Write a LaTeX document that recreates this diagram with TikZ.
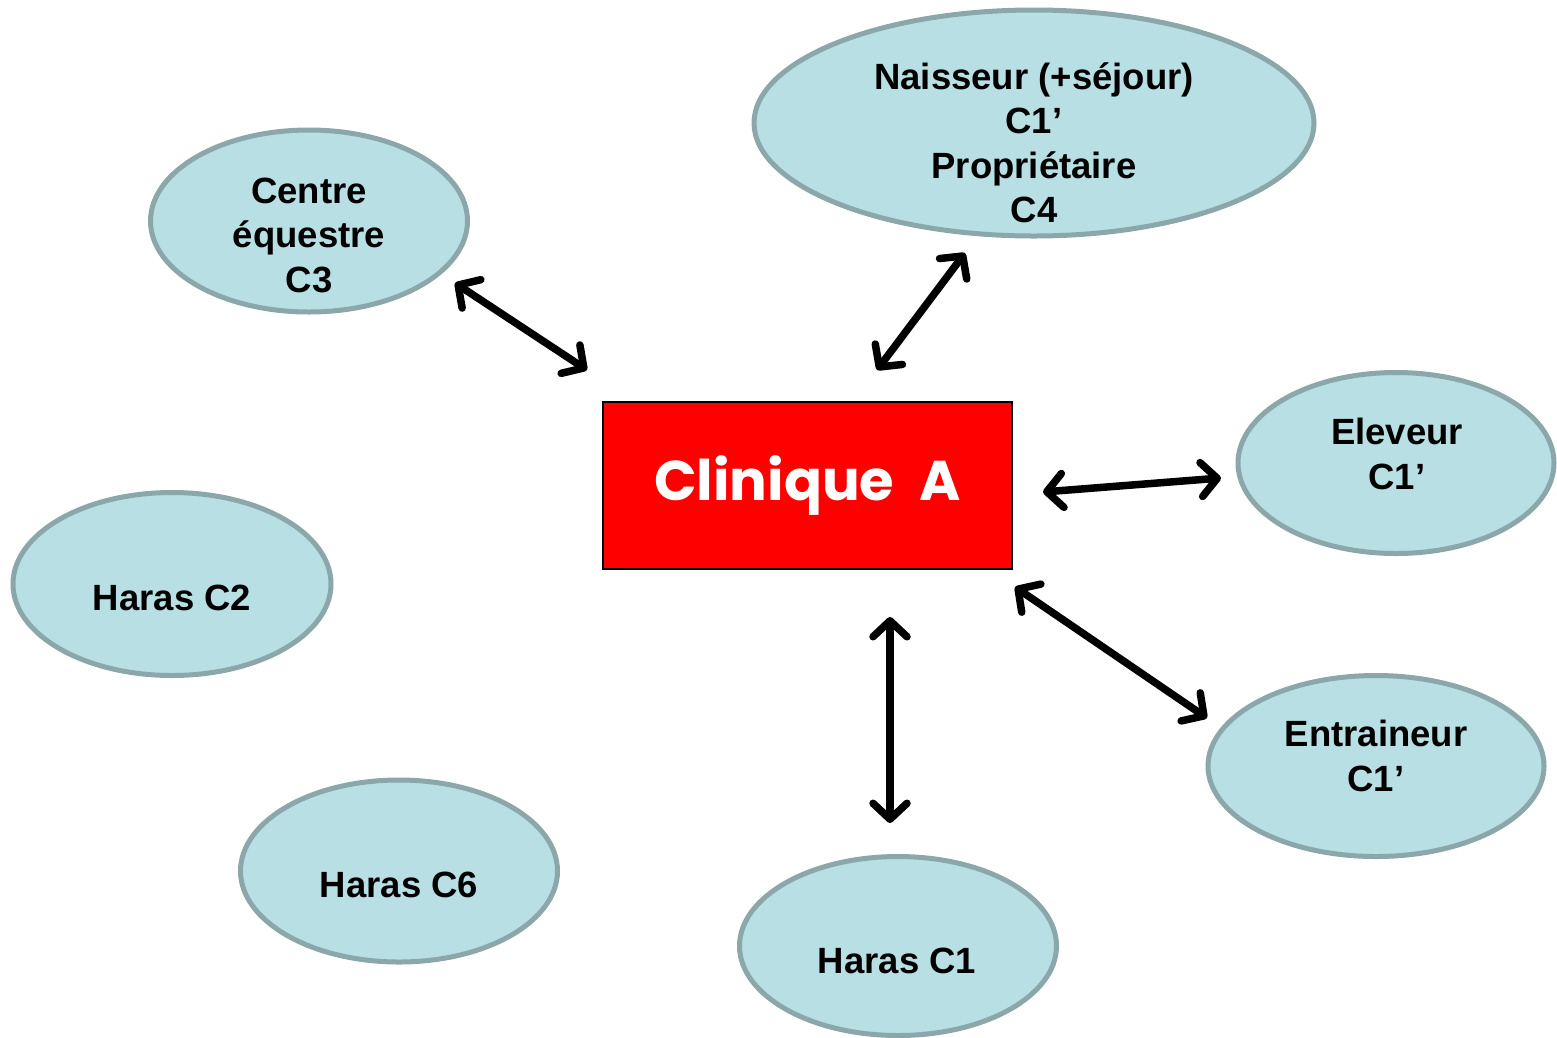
\documentclass[tikz,border=0pt]{standalone}
\usepackage{fontspec}
\setmainfont{Liberation Sans}
\newfontfamily\clinfont{Poppins}
\usetikzlibrary{shapes.geometric,arrows.meta}
\definecolor{bubblefill}{HTML}{B8DFE3}
\definecolor{bubbleedge}{HTML}{8BA7A9}
\begin{document}
\begin{tikzpicture}[x=1pt,y=-1pt,
  bubble/.style={ellipse,draw=bubbleedge,fill=bubblefill,line width=5pt,inner sep=0pt},
  bubbletext/.style={font=\fontsize{36.5}{44.5}\selectfont\bfseries,align=center,inner sep=0pt},
  barb/.tip={Straight Barb[length=16pt,width=34pt,line width=7.5pt,round]},
  link/.style={line width=7.5pt,line cap=round,barb-barb}]
\useasboundingbox (0,0) rectangle (1557,1037);
% central box
\node[draw=black,line width=1.5pt,fill=red,minimum width=409pt,minimum height=167pt,inner sep=0pt,
      font=\clinfont\fontsize{56}{56}\selectfont\bfseries,text=white] (clin) at (807.5,485.5) {\raisebox{2pt}{Clinique\hspace{0.45em}A}};
% partner bubbles
\node[bubble,minimum width=317pt,minimum height=182pt] (ceq) at (309,221) {};
\node[bubbletext] at (309,235) {Centre\\équestre\\C3};
\node[bubble,minimum width=560pt,minimum height=226pt] (nai) at (1034,123) {};
\node[bubbletext] at (1034,143) {Naisseur (+séjour)\\C1’\\Propriétaire\\C4};
\node[bubble,minimum width=316pt,minimum height=181pt] (ele) at (1396,463) {};
\node[bubbletext] at (1397,454) {Eleveur\\C1’};
\node[bubble,minimum width=318pt,minimum height=183pt] (hc2) at (172,584) {};
\node[bubbletext] at (172,598) {Haras C2};
\node[bubble,minimum width=336pt,minimum height=181pt] (ent) at (1376,766) {};
\node[bubbletext] at (1376,756) {Entraineur\\C1’};
\node[bubble,minimum width=317pt,minimum height=182pt] (hc6) at (399,871) {};
\node[bubbletext] at (399,885) {Haras C6};
\node[bubble,minimum width=317pt,minimum height=179pt] (hc1) at (898,946) {};
\node[bubbletext] at (897,961) {Haras C1};
% arrow ends
\coordinate (a1) at (455,283); \coordinate (b1) at (587,370);
\coordinate (a2) at (965,253); \coordinate (b2) at (877,370);
\coordinate (a3) at (1221,478); \coordinate (b3) at (1043,492);
\coordinate (a4) at (1207,718); \coordinate (b4) at (1015,587);
\coordinate (a5) at (890,823); \coordinate (b5) at (890,617);
\draw[link] (a1) -- (b1);
\draw[link] (a2) -- (b2);
\draw[link] (a3) -- (b3);
\draw[link] (a4) -- (b4);
\draw[link] (a5) -- (b5);
\end{tikzpicture}
\end{document}
